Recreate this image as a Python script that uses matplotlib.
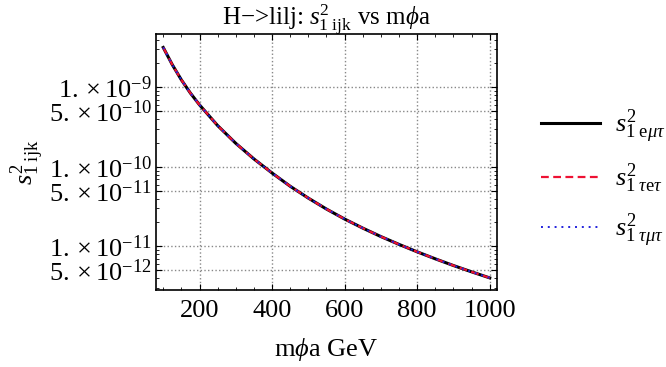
import matplotlib
matplotlib.use("Agg")
import matplotlib.pyplot as plt
from matplotlib.ticker import FixedLocator, NullFormatter

plt.rcParams['font.family'] = 'Liberation Serif'
plt.rcParams['mathtext.fontset'] = 'custom'
plt.rcParams['mathtext.rm'] = 'Liberation Serif'
plt.rcParams['mathtext.it'] = 'Liberation Serif:italic'
plt.rcParams['mathtext.bf'] = 'Liberation Serif:bold'

# data (all three series coincide)
mphi = [100, 125, 150, 175, 200, 250, 300, 350, 400, 450, 500, 550, 600,
        650, 700, 750, 800, 850, 900, 950, 1000]
s_emt = [3.18e-9, 1.93e-9, 1.245e-9, 8.47e-10, 6.03e-10, 3.31e-10, 1.98e-10,
         1.26e-10, 8.38e-11, 5.71e-11, 4.05e-11, 2.95e-11, 2.21e-11,
         1.70e-11, 1.33e-11, 1.06e-11, 8.55e-12, 6.98e-12, 5.75e-12,
         4.79e-12, 4.02e-12]
s_tet = list(s_emt)
s_tmt = list(s_emt)

xticks = [200, 400, 600, 800, 1000]
yticks = [1e-9, 5e-10, 1e-10, 5e-11, 1e-11, 5e-12]
ytick_labels = [r'$1.\times10^{-9}$', r'$5.\times10^{-10}$', r'$1.\times10^{-10}$',
                r'$5.\times10^{-11}$', r'$1.\times10^{-11}$', r'$5.\times10^{-12}$']
labels = [r'$s^2_{\mathrm{1\ e}\mu\tau}$', r'$s^2_{\mathrm{1}\ \tau\mathrm{e}\tau}$',
          r'$s^2_{\mathrm{1}\ \tau\mu\tau}$']

fs = 19
fig = plt.figure(figsize=(6.66, 3.67), dpi=100)
ax = fig.add_axes([0.2342, 0.2098, 0.512, 0.6976])

ax.plot(mphi, s_emt, color='black', lw=2.2, label=labels[0])
ax.plot(mphi, s_tet, color='#ee1133', lw=1.6, ls=(0, (3.5, 2)), label=labels[1])
ax.plot(mphi, s_tmt, color='#2222dd', lw=1.4, ls=(0, (1, 2.5)), label=labels[2])

ax.set_yscale('log')
ax.set_xlim(80, 1020)
ax.set_ylim(2.83e-12, 4.7e-9)

ax.set_xticks(xticks)
ax.set_xticklabels([str(t) for t in xticks], fontsize=fs)
ax.xaxis.set_minor_locator(FixedLocator(list(range(100, 1001, 50))))
ax.set_yticks(yticks)
ax.set_yticklabels(ytick_labels, fontsize=fs)
ax.yaxis.set_minor_locator(FixedLocator([k * 10.0**e for e in (-12, -11, -10, -9)
                                         for k in range(2, 10)]))
ax.yaxis.set_minor_formatter(NullFormatter())

ax.tick_params(which='both', direction='in', top=True, right=True)
ax.tick_params(axis='x', which='major', pad=7)
ax.tick_params(axis='y', which='major', pad=3)
ax.tick_params(which='major', length=4, width=0.8)
ax.tick_params(which='minor', length=2, width=0.6)
ax.grid(True, which='major', color='#888888', ls=':', lw=1.0)
for sp in ax.spines.values():
    sp.set_linewidth(1.2)

fig.text(0.490, 0.93, r'H$-$>lilj: $s^2_{\mathrm{1\ ijk}}$ vs m$\phi$a',
         fontsize=18, ha='center', va='baseline')
ax.set_xlabel(r'm$\phi$a GeV', fontsize=fs, labelpad=10)
ax.set_ylabel(r'$s^2_{\mathrm{1\ ijk}}$', fontsize=fs, labelpad=2)

fig.legend(loc='center left', bbox_to_anchor=(0.8123, 0.514), frameon=False,
           borderpad=0, borderaxespad=0,
           fontsize=fs, handlelength=2.24, handletextpad=0.55, labelspacing=0.62)

fig.savefig('out.png', dpi=100)
